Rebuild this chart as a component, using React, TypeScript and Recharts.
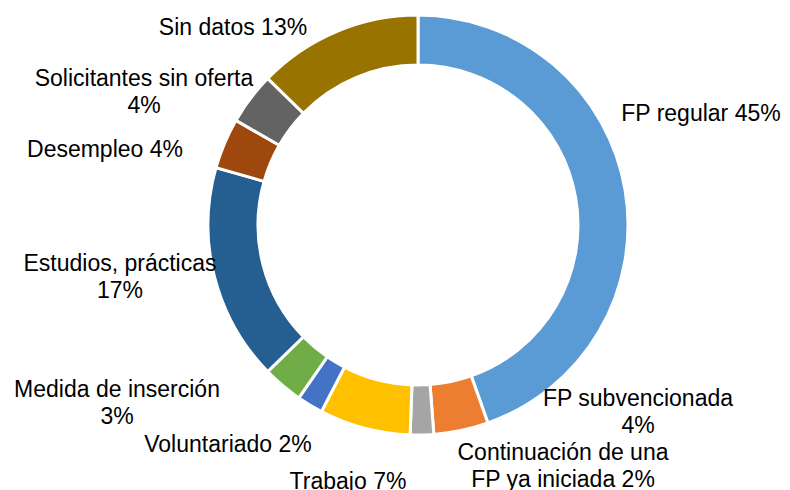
import { PieChart, Pie, Cell } from "recharts";

const categories = [
  "FP regular",
  "FP subvencionada",
  "Continuación de una FP ya iniciada",
  "Trabajo",
  "Voluntariado",
  "Medida de inserción",
  "Estudios, prácticas",
  "Desempleo",
  "Solicitantes sin oferta",
  "Sin datos",
];

const values = [44.6, 4.2, 1.8, 7.0, 2.0, 3.1, 16.7, 3.9, 4.0, 12.7];

// label text as printed on the chart, one entry per line
const labelLines = [
  ["FP regular 45%"],
  ["FP subvencionada", "4%"],
  ["Continuación de una", "FP ya iniciada 2%"],
  ["Trabajo 7%"],
  ["Voluntariado 2%"],
  ["Medida de inserción", "3%"],
  ["Estudios, prácticas", "17%"],
  ["Desempleo 4%"],
  ["Solicitantes sin oferta", "4%"],
  ["Sin datos 13%"],
];

const colors = [
  "#5B9BD5",
  "#ED7D31",
  "#A5A5A5",
  "#FFC000",
  "#4472C4",
  "#70AD47",
  "#255E91",
  "#9E480E",
  "#636363",
  "#997300",
];

// label placement (centre x, first baseline) relative to the pie centre
const labelOffsets = [
  [283, -104],
  [220, 181],
  [145, 235],
  [-70, 264],
  [-190, 227],
  [-301, 172],
  [-298, 46],
  [-313, -68],
  [-274, -139],
  [-185, -190],
];

const data = categories.map((name, i) => ({ name, value: values[i] }));

const renderLabel = (props: any) => {
  const { cx, cy, index } = props;
  const [dx, dy] = labelOffsets[index];
  return (
    <text
      x={cx + dx}
      y={cy + dy}
      textAnchor="middle"
      fill="#000"
      fontSize={23}
      fontFamily="'Liberation Sans', Arial, sans-serif"
    >
      {labelLines[index].map((line, j) => (
        <tspan key={j} x={cx + dx} dy={j === 0 ? 0 : 27}>
          {line}
        </tspan>
      ))}
    </text>
  );
};

export default function App() {
  return (
    <div style={{ position: "absolute", left: 0, top: 0, background: "#fff" }}>
      <PieChart
        width={790}
        height={490}
        margin={{ top: 0, right: 0, bottom: 0, left: 0 }}
      >
        <Pie
          data={data}
          dataKey="value"
          nameKey="name"
          cx={418}
          cy={225}
          innerRadius={160}
          outerRadius={210}
          startAngle={90}
          endAngle={-270}
          stroke="#fff"
          strokeWidth={3}
          label={renderLabel}
          labelLine={false}
          isAnimationActive={false}
        >
          {data.map((d, i) => (
            <Cell key={d.name} fill={colors[i]} />
          ))}
        </Pie>
      </PieChart>
    </div>
  );
}
